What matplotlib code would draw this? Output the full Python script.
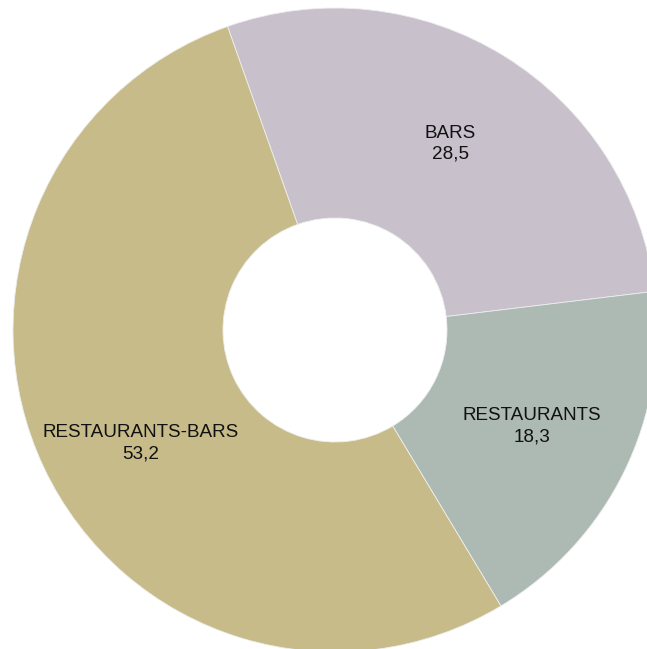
import matplotlib
matplotlib.use("Agg")
import matplotlib.pyplot as plt
import numpy as np

categories = ["BARS", "RESTAURANTS", "RESTAURANTS-BARS"]
values = [28.5, 18.3, 53.2]
labels = ["28,5", "18,3", "53,2"]
colors = ["#C8C0CB", "#ADB9B3", "#C7BC89"]

W, H = 647, 649
fig = plt.figure(figsize=(W / 100, H / 100), dpi=100)
ax = fig.add_axes([0, 0, 1, 1])
cx, cy = 335, H - 330
R, r_in = 322, 112
start = 109.5
wedges, _ = ax.pie(values, colors=colors, startangle=start, counterclock=False,
                   center=(cx, cy), radius=R,
                   wedgeprops=dict(width=R - r_in, edgecolor="#EEEEEE", linewidth=0.6))
total = sum(values)
ang = start
label_shift = [0, 0, 5]  # degrees, label placement tweak
label_r = [219, 219, 225]
for cat, v, lab, sh, rr in zip(categories, values, labels, label_shift, label_r):
    span = v / total * 360
    mid = np.deg2rad(ang - span / 2 + sh)
    ang -= span
    ax.text(cx + rr * np.cos(mid), cy + rr * np.sin(mid), f"{cat}\n{lab}",
            ha="center", va="center", fontsize=13.6, family="Liberation Sans",
            linespacing=1.3, color="#111111")
ax.set_xlim(0, W)
ax.set_ylim(0, H)
ax.set_aspect("auto")
ax.axis("off")
fig.savefig("out.png", dpi=100)
